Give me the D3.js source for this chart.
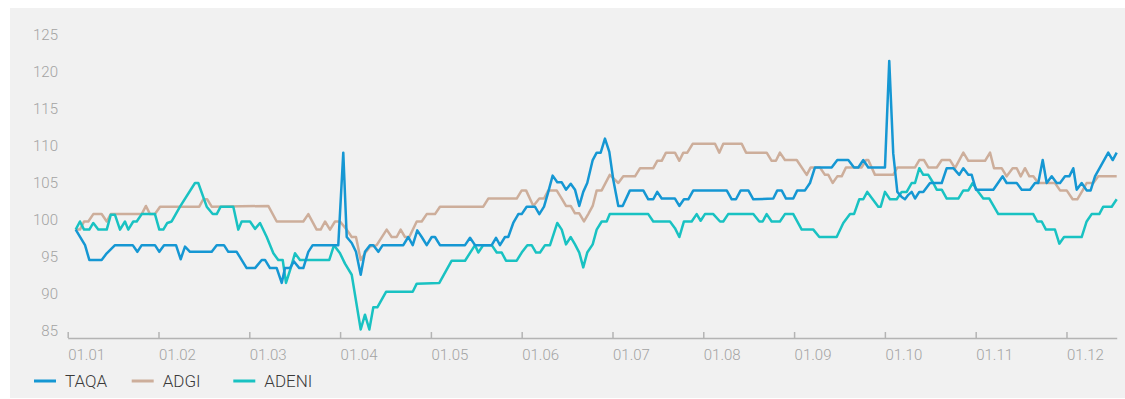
<!DOCTYPE html>
<html lang="en">
<head>
    <meta charset="UTF-8">
    <title>TAQA / ADGI / ADENI</title>
    <script src="https://d3js.org/d3.v7.min.js"></script>
    <style>
        body { margin: 0; background: #fff; }
        svg { display: block; font-family: Roboto, "Open Sans", sans-serif; }
    </style>
</head>
<body>
    <div id="chart"></div>
    <script>
        // month tick labels (day.month)
        const monthLabels = ['01.01', '01.02', '01.03', '01.04', '01.05', '01.06',
                             '01.07', '01.08', '01.09', '01.10', '01.11', '01.12'];
        const yTicks = [85, 90, 95, 100, 105, 110, 115, 120, 125];

        // [position in months since 01.01, index value]
        const taqa = [
            [0.088, 98.7], [0.191, 96.6], [0.238, 94.6], [0.374, 94.6], [0.430, 95.5], [0.521, 96.6],
            [0.716, 96.6], [0.767, 95.7], [0.815, 96.6], [0.961, 96.6], [1.009, 95.7], [1.061, 96.6],
            [1.193, 96.6], [1.244, 94.7], [1.292, 96.4], [1.347, 95.7], [1.586, 95.7], [1.641, 96.6],
            [1.721, 96.6], [1.769, 95.7], [1.861, 95.7], [1.971, 93.5], [2.063, 93.5], [2.137, 94.6],
            [2.173, 94.6], [2.228, 93.5], [2.302, 93.5], [2.357, 91.5], [2.393, 93.5], [2.448, 93.5],
            [2.492, 94.4], [2.551, 93.5], [2.595, 93.5], [2.650, 95.7], [2.698, 96.6], [2.980, 96.6],
            [3.035, 109.1], [3.073, 97.7], [3.128, 96.9], [3.175, 95.7], [3.227, 92.6], [3.274, 95.7],
            [3.329, 96.6], [3.366, 96.6], [3.421, 95.7], [3.469, 96.6], [3.696, 96.6], [3.751, 97.7],
            [3.800, 96.6], [3.850, 98.6], [3.899, 97.7], [3.954, 96.6], [4.009, 97.7], [4.045, 97.7],
            [4.100, 96.6], [4.376, 96.6], [4.431, 97.6], [4.486, 96.6], [4.670, 96.6], [4.717, 97.6],
            [4.761, 96.6], [4.816, 97.7], [4.852, 97.7], [4.907, 99.6], [4.963, 100.8], [5.000, 100.8],
            [5.055, 101.8], [5.146, 101.8], [5.194, 100.8], [5.246, 101.8], [5.293, 103.8], [5.341, 106.0],
            [5.392, 105.1], [5.441, 105.1], [5.488, 104.1], [5.540, 104.9], [5.587, 104.1], [5.634, 101.9],
            [5.678, 103.8], [5.722, 105.0], [5.782, 108.1], [5.826, 109.1], [5.870, 109.1], [5.917, 111.0],
            [5.965, 109.2], [6.009, 105.4], [6.064, 101.9], [6.112, 101.9], [6.192, 104.0], [6.339, 104.0],
            [6.394, 102.8], [6.449, 102.8], [6.493, 103.8], [6.542, 102.9], [6.688, 102.9], [6.736, 101.9],
            [6.787, 102.8], [6.835, 102.8], [6.890, 104.0], [7.258, 104.0], [7.313, 102.8], [7.360, 102.8],
            [7.412, 104.0], [7.496, 104.0], [7.551, 102.8], [7.771, 102.9], [7.815, 104.0], [7.863, 104.0],
            [7.911, 102.9], [7.991, 102.9], [8.035, 104.0], [8.120, 104.0], [8.175, 105.0], [8.230, 107.1],
            [8.414, 107.1], [8.476, 108.1], [8.597, 108.1], [8.660, 107.1], [8.707, 107.1], [8.762, 108.1],
            [8.817, 107.1], [9.001, 107.1], [9.048, 121.5], [9.092, 109.0], [9.137, 103.8], [9.185, 103.1],
            [9.221, 102.8], [9.258, 103.4], [9.295, 103.8], [9.332, 102.9], [9.379, 103.8], [9.423, 103.8],
            [9.497, 105.0], [9.626, 105.0], [9.681, 107.0], [9.754, 107.0], [9.819, 106.1], [9.864, 107.0],
            [9.919, 106.1], [9.956, 106.1], [10.003, 104.1], [10.194, 104.1], [10.297, 105.9], [10.341, 105.0],
            [10.452, 105.0], [10.507, 104.1], [10.598, 104.1], [10.653, 105.0], [10.689, 105.0], [10.738, 108.1],
            [10.782, 105.0], [10.837, 105.9], [10.892, 105.0], [10.929, 105.0], [10.984, 105.9], [11.031, 105.9],
            [11.075, 107.0], [11.112, 104.1], [11.167, 105.0], [11.222, 104.0], [11.266, 104.0], [11.314, 105.9],
            [11.460, 109.1], [11.509, 108.1], [11.553, 109.1]
        ];

        const adgi = [
            [0.088, 98.7], [0.135, 98.7], [0.180, 99.8], [0.227, 99.8], [0.282, 100.8], [0.374, 100.8],
            [0.430, 99.8], [0.474, 100.8], [0.815, 100.8], [0.862, 101.9], [0.906, 100.8], [0.961, 100.8],
            [1.017, 101.8], [1.449, 101.8], [1.493, 102.8], [1.537, 102.8], [1.586, 101.8], [2.209, 101.9],
            [2.302, 99.8], [2.595, 99.8], [2.650, 100.8], [2.742, 98.7], [2.786, 98.7], [2.834, 99.8],
            [2.889, 98.7], [2.944, 99.8], [2.999, 99.8], [3.073, 98.7], [3.128, 97.7], [3.175, 97.7],
            [3.227, 94.6], [3.274, 95.5], [3.329, 96.4], [3.403, 96.6], [3.513, 98.7], [3.568, 97.7],
            [3.623, 97.7], [3.667, 98.7], [3.715, 97.7], [3.762, 97.7], [3.844, 99.8], [3.899, 99.8],
            [3.954, 100.8], [4.045, 100.8], [4.100, 101.8], [4.577, 101.8], [4.632, 102.9], [4.945, 102.9],
            [5.000, 104.0], [5.048, 104.0], [5.128, 101.9], [5.194, 102.9], [5.246, 102.9], [5.293, 104.0],
            [5.385, 104.0], [5.441, 102.9], [5.488, 101.9], [5.540, 101.9], [5.587, 100.9], [5.634, 100.9],
            [5.686, 99.8], [5.733, 100.8], [5.782, 101.9], [5.826, 104.0], [5.881, 104.0], [5.970, 106.1],
            [6.064, 105.0], [6.119, 105.9], [6.248, 105.9], [6.304, 107.0], [6.449, 107.0], [6.493, 108.0],
            [6.542, 108.0], [6.589, 109.1], [6.688, 109.1], [6.736, 108.0], [6.780, 109.1], [6.824, 109.1],
            [6.883, 110.3], [7.129, 110.3], [7.176, 109.1], [7.220, 110.3], [7.423, 110.3], [7.471, 109.1],
            [7.698, 109.1], [7.753, 108.0], [7.800, 108.0], [7.844, 109.1], [7.899, 108.1], [8.029, 108.1],
            [8.139, 106.1], [8.183, 107.1], [8.285, 107.1], [8.340, 106.1], [8.377, 106.1], [8.425, 105.0],
            [8.476, 105.9], [8.524, 105.9], [8.571, 107.1], [8.744, 107.1], [8.792, 108.1], [8.817, 108.1],
            [8.891, 106.1], [9.092, 106.1], [9.137, 107.1], [9.332, 107.1], [9.379, 108.1], [9.431, 108.1],
            [9.478, 107.1], [9.571, 107.1], [9.626, 108.1], [9.717, 108.1], [9.772, 107.0], [9.864, 109.1],
            [9.919, 108.0], [10.103, 108.0], [10.158, 109.1], [10.202, 107.0], [10.286, 107.0], [10.341, 105.9],
            [10.407, 107.0], [10.452, 107.0], [10.496, 105.9], [10.543, 107.0], [10.591, 105.9], [10.635, 105.9],
            [10.689, 105.0], [10.873, 105.0], [10.929, 104.0], [11.002, 104.0], [11.068, 102.8], [11.119, 102.8],
            [11.178, 104.0], [11.222, 105.0], [11.295, 105.0], [11.350, 105.9], [11.553, 105.9]
        ];

        const adeni = [
            [0.088, 98.7], [0.135, 99.8], [0.180, 98.7], [0.238, 98.7], [0.282, 99.6], [0.337, 98.7],
            [0.430, 98.7], [0.474, 100.7], [0.521, 100.7], [0.576, 98.7], [0.631, 99.8], [0.667, 98.7],
            [0.722, 99.8], [0.760, 99.8], [0.815, 100.8], [0.961, 100.8], [1.009, 98.7], [1.053, 98.7],
            [1.097, 99.6], [1.145, 99.8], [1.237, 101.8], [1.402, 105.0], [1.438, 105.0], [1.531, 101.8],
            [1.597, 100.8], [1.641, 100.8], [1.685, 101.8], [1.824, 101.8], [1.879, 98.7], [1.916, 99.8],
            [2.008, 99.8], [2.063, 98.8], [2.118, 99.6], [2.192, 97.7], [2.265, 95.5], [2.319, 94.6],
            [2.368, 94.6], [2.404, 91.5], [2.456, 93.5], [2.503, 95.5], [2.558, 94.6], [2.881, 94.6],
            [2.933, 96.6], [2.999, 95.5], [3.054, 94.1], [3.128, 92.6], [3.227, 85.2], [3.274, 87.2],
            [3.322, 85.2], [3.366, 88.2], [3.410, 88.2], [3.506, 90.3], [3.800, 90.3], [3.844, 91.4],
            [4.093, 91.5], [4.229, 94.5], [4.376, 94.5], [4.486, 96.6], [4.522, 95.6], [4.577, 96.6],
            [4.670, 96.6], [4.725, 95.6], [4.780, 95.6], [4.827, 94.5], [4.945, 94.5], [5.000, 95.6],
            [5.062, 96.6], [5.110, 96.6], [5.158, 95.6], [5.202, 95.6], [5.257, 96.6], [5.312, 96.6],
            [5.392, 99.6], [5.441, 98.7], [5.488, 96.7], [5.540, 97.7], [5.587, 96.7], [5.634, 95.6],
            [5.678, 93.6], [5.722, 95.6], [5.782, 96.7], [5.826, 98.7], [5.881, 99.8], [5.936, 99.8],
            [5.970, 100.8], [6.394, 100.8], [6.449, 99.8], [6.633, 99.8], [6.688, 98.9], [6.736, 97.7],
            [6.787, 99.8], [6.872, 99.8], [6.927, 100.8], [6.971, 99.9], [7.018, 100.8], [7.110, 100.8],
            [7.184, 99.8], [7.220, 99.8], [7.274, 100.8], [7.551, 100.8], [7.617, 99.8], [7.654, 99.8],
            [7.698, 100.8], [7.753, 99.8], [7.844, 99.8], [7.899, 100.8], [7.991, 100.8], [8.084, 98.7],
            [8.212, 98.7], [8.278, 97.7], [8.469, 97.7], [8.542, 99.6], [8.616, 100.8], [8.660, 100.8],
            [8.718, 102.8], [8.762, 102.8], [8.806, 103.8], [8.927, 101.8], [8.954, 101.8], [9.001, 103.8],
            [9.056, 102.8], [9.130, 102.8], [9.185, 103.8], [9.240, 103.8], [9.295, 105.0], [9.332, 105.0],
            [9.379, 107.0], [9.423, 106.1], [9.478, 106.1], [9.533, 105.0], [9.571, 104.1], [9.626, 104.1],
            [9.681, 102.9], [9.809, 102.9], [9.864, 104.0], [9.919, 104.0], [9.967, 105.0], [10.011, 104.1],
            [10.084, 102.9], [10.150, 102.9], [10.249, 100.8], [10.634, 100.8], [10.678, 99.8], [10.727, 99.8],
            [10.774, 98.7], [10.873, 98.7], [10.921, 96.8], [10.973, 97.7], [11.167, 97.7], [11.222, 99.8],
            [11.277, 100.8], [11.361, 100.8], [11.405, 101.8], [11.498, 101.8], [11.553, 102.8]
        ];

        const seriesNames = ['TAQA', 'ADGI', 'ADENI'];
        const seriesData = [taqa, adgi, adeni];
        const seriesColors = ['#1597d3', '#cdae9b', '#19c2c2'];

        const width = 1125, height = 399;

        const svg = d3.select('#chart')
            .append('svg')
            .attr('width', width)
            .attr('height', height);

        // grey panel
        svg.append('rect')
            .attr('x', 10).attr('y', 8)
            .attr('width', width - 10).attr('height', 390)
            .attr('fill', '#f1f1f1');

        const x = d3.scaleLinear().domain([0, 11.553]).range([67.7, 1116.7]);
        const y = d3.scaleLinear().domain([85, 125]).range([331, 35]);

        // y axis: labels only
        const yAxis = svg.append('g')
            .attr('transform', 'translate(58,0)')
            .call(d3.axisLeft(y).tickValues(yTicks).tickSize(0).tickPadding(0));
        yAxis.select('.domain').remove();
        yAxis.selectAll('text')
            .attr('fill', '#a3a3a3')
            .style('font-size', '15px')
            .style('font-weight', 300)
            .style('font-family', 'Roboto, sans-serif');

        // x axis: baseline with small upward ticks, labels left-aligned at ticks
        const xAxis = svg.append('g')
            .attr('transform', 'translate(0,338)')
            .call(d3.axisBottom(x)
                .tickValues(d3.range(monthLabels.length))
                .tickFormat(i => monthLabels[i])
                .tickSizeInner(-6)
                .tickSizeOuter(0)
                .tickPadding(11));
        xAxis.select('.domain').attr('stroke', '#b4b4b4').attr('stroke-width', 1.5);
        xAxis.selectAll('.tick line').attr('stroke', '#b4b4b4').attr('stroke-width', 1.5);
        xAxis.selectAll('text')
            .attr('text-anchor', 'start')
            .attr('fill', '#a3a3a3')
            .style('font-size', '15px')
            .style('font-weight', 300)
            .style('font-family', 'Roboto, sans-serif');

        const line = d3.line()
            .x(d => x(d[0]))
            .y(d => y(d[1]));

        // draw order: ADGI, ADENI behind, TAQA on top
        [1, 2, 0].forEach(i => {
            svg.append('path')
                .datum(seriesData[i])
                .attr('fill', 'none')
                .attr('stroke', seriesColors[i])
                .attr('stroke-width', 2.5)
                .attr('stroke-linejoin', 'round')
                .attr('d', line);
        });

        // legend
        const legendX = [34, 131.7, 233.3];
        const legend = svg.append('g').attr('transform', 'translate(0,381)');
        seriesNames.forEach((name, i) => {
            legend.append('line')
                .attr('x1', legendX[i]).attr('x2', legendX[i] + 22)
                .attr('y1', 0).attr('y2', 0)
                .attr('stroke', seriesColors[i])
                .attr('stroke-width', 3);
            legend.append('text')
                .attr('x', legendX[i] + 31)
                .attr('y', 0)
                .attr('dy', '0.35em')
                .attr('fill', '#3a3a3a')
                .style('font-size', '17px')
                .style('font-weight', 300)
                .style('font-family', 'Roboto, sans-serif')
                .text(name);
        });
    </script>
</body>
</html>
